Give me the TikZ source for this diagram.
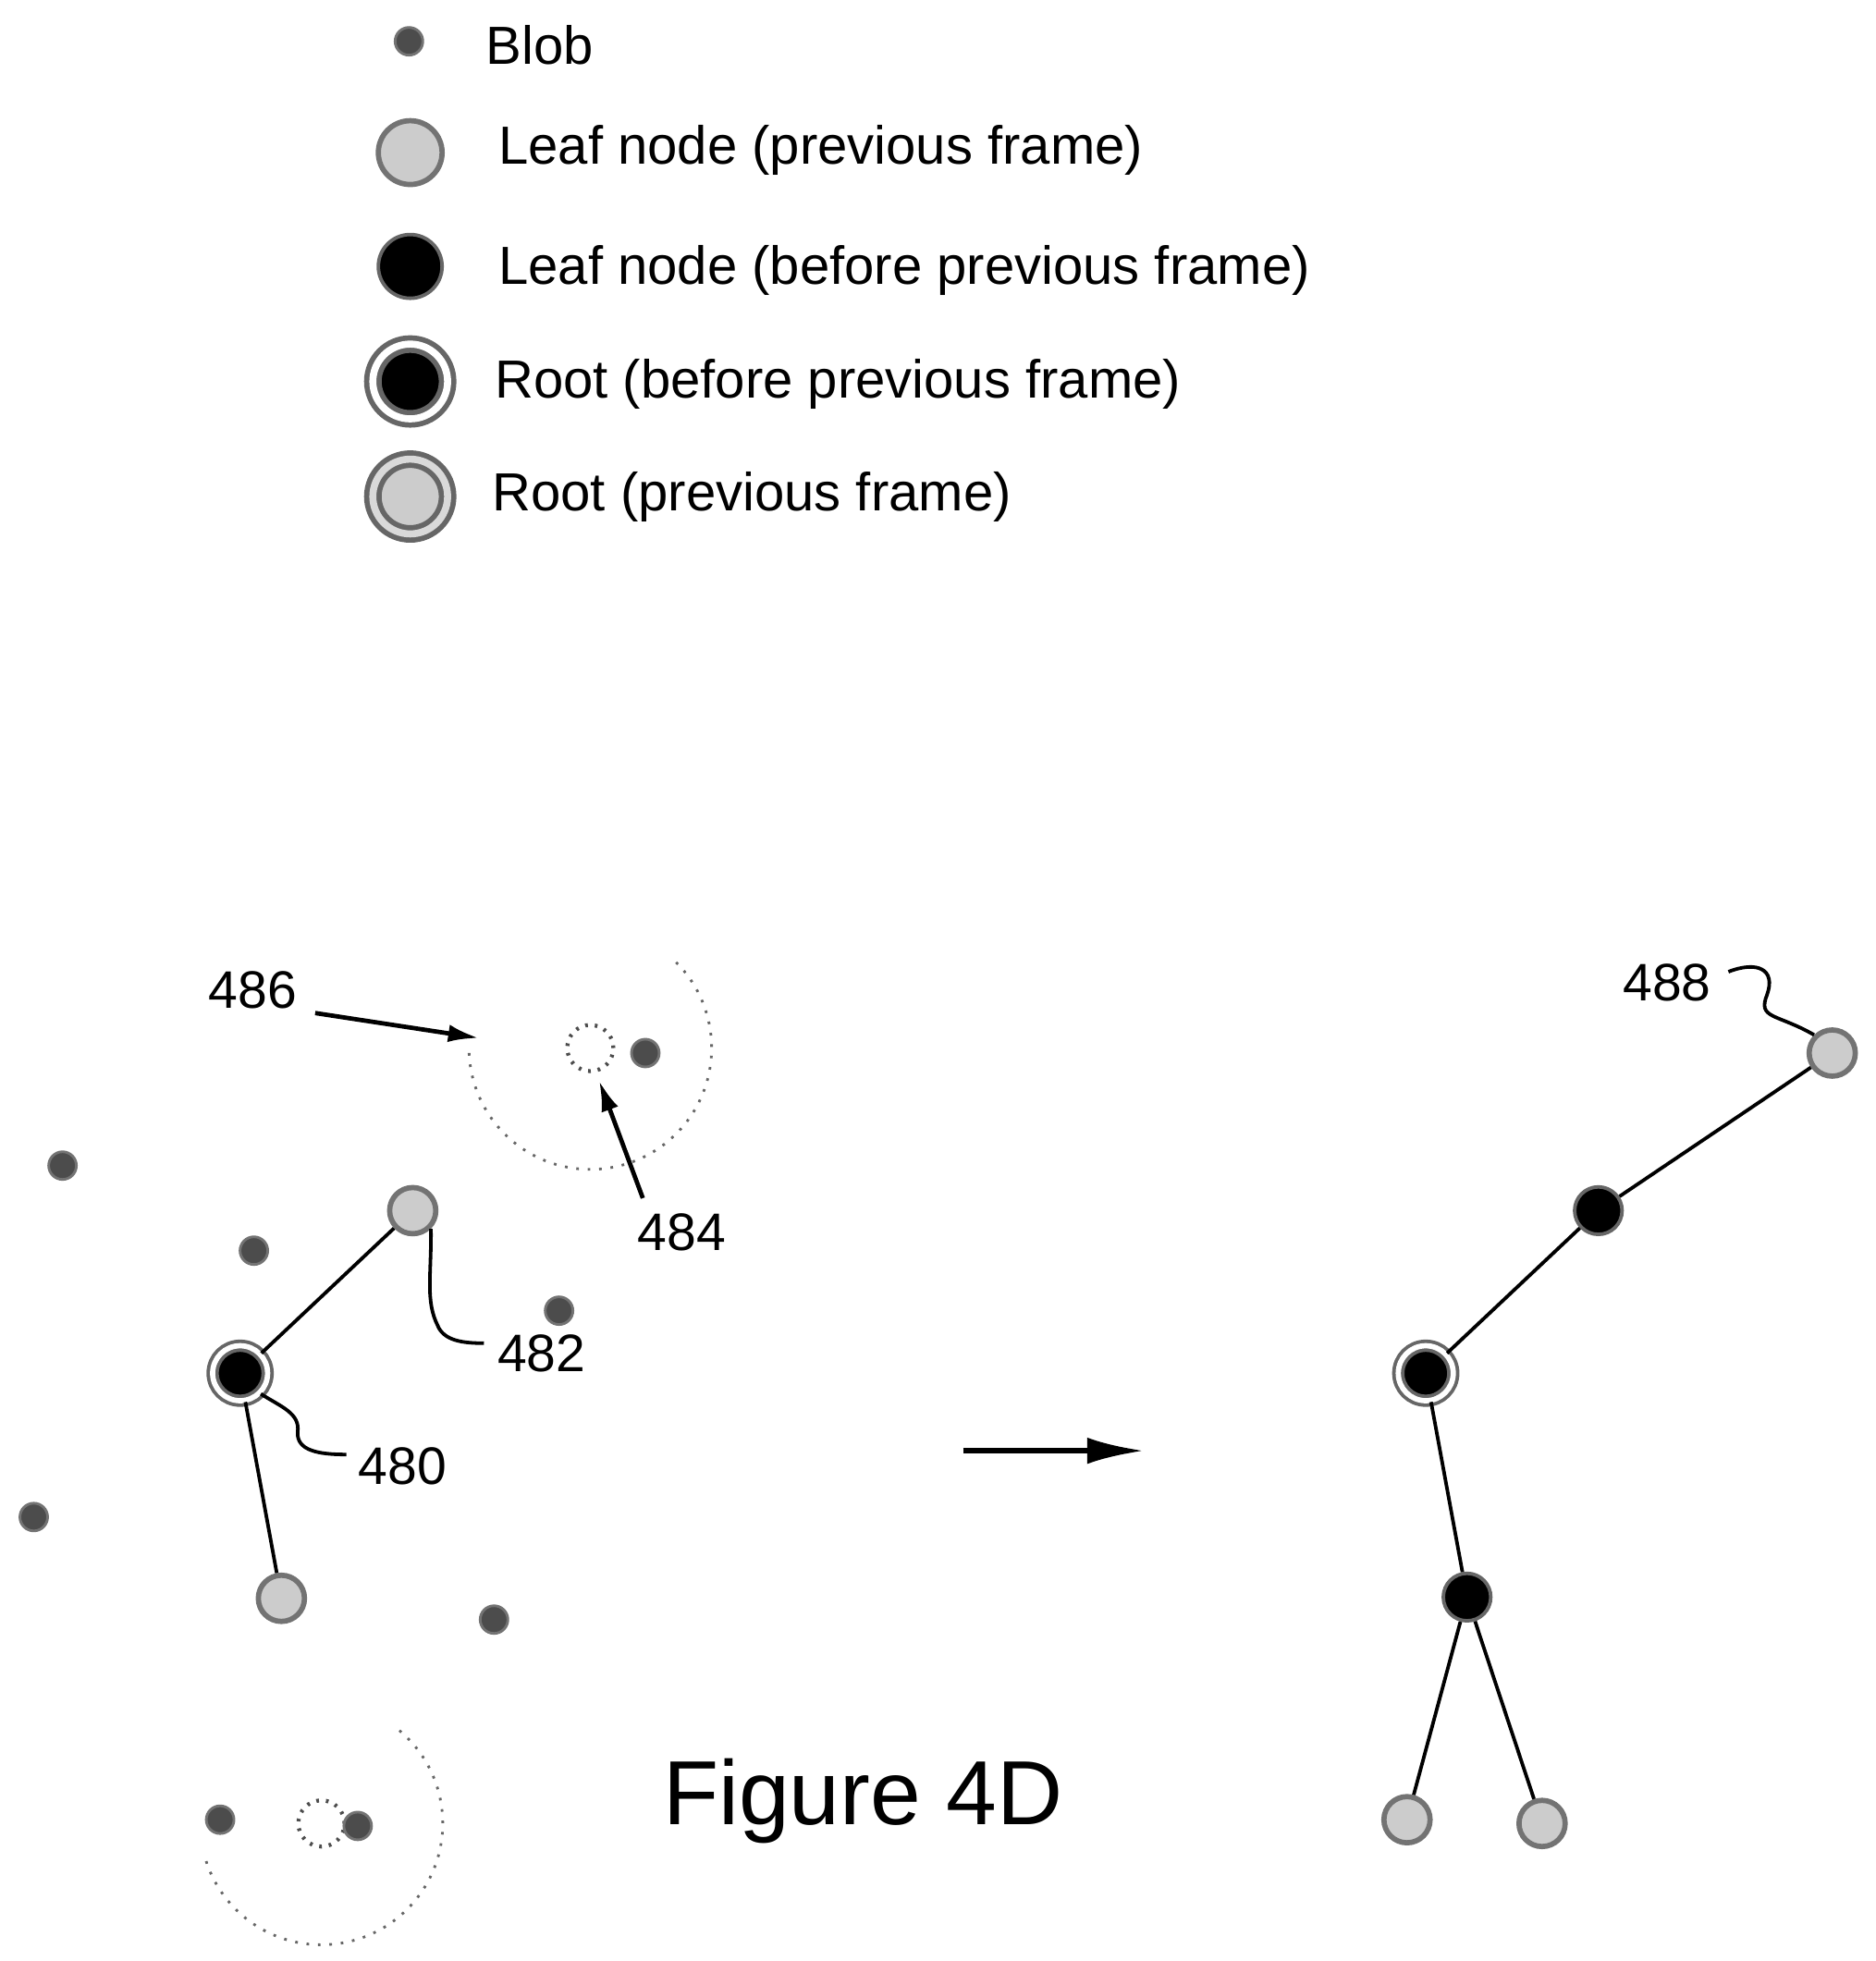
\documentclass[tikz,border=0pt]{standalone}
\usepackage{fontspec}
\setmainfont{Liberation Sans}
\usetikzlibrary{arrows.meta}
\begin{document}
\begin{tikzpicture}[x=0.01cm,y=-0.01cm,
  blob/.style={circle,fill=black!70,draw=black!55,line width=0.6pt,minimum size=6.3pt,inner sep=0},
  leafp/.style={circle,fill=black!20,draw=black!55,line width=1.2pt,minimum size=10.5pt,inner sep=0},
  leafb/.style={circle,fill=black,draw=black!60,line width=0.8pt,minimum size=10.8pt,inner sep=0},
  rootb/.style={circle,fill=black,draw=black!60,line width=0.8pt,minimum size=12.5pt,inner sep=0,
     double=white,double distance=1.2pt},
  rootp/.style={circle,fill=black!20,draw=black!60,line width=1.2pt,minimum size=17pt,inner sep=0,
     double=black!15,double distance=1.6pt},
  big/.style={minimum size=14.5pt},
  ghost/.style={circle,draw=black!70,dash pattern=on 0.6pt off 1.6pt,line width=0.9pt,minimum size=10.5pt,inner sep=0},
  lbl/.style={font=\fontsize{12.2pt}{14pt}\selectfont,anchor=west,inner sep=0},
  num/.style={font=\fontsize{12pt}{14pt}\selectfont,inner sep=0},
  edge/.style={line width=0.8pt},
  lead/.style={line width=0.8pt},
  arr/.style={line width=1pt,-{Latex[length=7pt,width=4pt]}},
  bigarr/.style={line width=1.3pt,-{Latex[length=13pt,width=6pt]}}]
\useasboundingbox (0,0) rectangle (1500,1568);
% legend
\node[blob] (lg1) at (327,33) {};
\node[lbl] (lt1) at (388,36) {Blob};
\node[leafp,big] (lg2) at (328,122) {};
\node[lbl] (lt2) at (398,120) {Leaf node (previous frame)};
\node[leafb,big] (lg3) at (328,213) {};
\node[lbl] (lt3) at (398,216) {Leaf node (before previous frame)};
\node[rootb,line width=1.2pt,double distance=1.6pt,minimum size=17pt] (lg4) at (328,305) {};
\node[lbl] (lt4) at (395,307) {Root (before previous frame)};
\node[rootp] (lg5) at (328,397) {};
\node[lbl] (lt5) at (393,397) {Root (previous frame)};
% search circles
\draw[black!60,dotted,line width=0.6pt] (472,838) ++(-45:97) arc[start angle=-45,end angle=180,radius=97];
\draw[black!60,dotted,line width=0.6pt] (257,1458) ++(-50:97) arc[start angle=-50,end angle=165,radius=97];
\node[ghost] (g1) at (472,838) {};
\node[ghost] (g2) at (257,1458) {};
% blobs
\foreach \i/\p in {1/{50,932},2/{203,1000},3/{447,1048},4/{27,1213},5/{395,1295},6/{516,842},7/{176,1455},8/{286,1460}}
  \node[blob] (b\i) at (\p) {};
% left tree
\node[rootb] (r1) at (192,1098) {};
\node[leafp] (l1) at (330,968) {};
\node[leafp] (l2) at (225,1278) {};
\draw[edge] (r1) -- (l1);
\draw[edge] (r1) -- (l2);
% right tree
\node[rootb] (r2) at (1140,1098) {};
\node[leafb] (k1) at (1278,968) {};
\node[leafp] (k2) at (1465,842) {};
\node[leafb] (k3) at (1173,1277) {};
\node[leafp] (k4) at (1125,1455) {};
\node[leafp] (k5) at (1233,1458) {};
\draw[edge] (r2) -- (k1) -- (k2);
\draw[edge] (r2) -- (k3) -- (k4);
\draw[edge] (k3) -- (k5);
% transition arrow
\coordinate (a1) at (770,1160);
\coordinate (a2) at (915,1160);
\draw[bigarr] (a1) -- (a2);
% labels
\node[num] (n486) at (202,792) {486};
\coordinate (c486) at (383,830);
\coordinate (s486) at (252,810);
\draw[arr] (s486) -- (c486);
\node[num] (n484) at (545,985) {484};
\coordinate (c484) at (479,864);
\coordinate (s484) at (514,958);
\draw[arr] (s484) -- (c484);
\node[num] (n482) at (433,1082) {482};
\draw[lead] (l1.south east) .. controls (345,1020) and (340,1040) .. (350,1060) .. controls (355,1072) and (370,1074) .. (387,1074);
\node[num] (n480) at (322,1172) {480};
\draw[lead] (r1.south east) .. controls (225,1125) and (240,1130) .. (238,1145) .. controls (237,1160) and (255,1163) .. (277,1163);
\node[num] (n488) at (1333,786) {488};
\draw[lead] (1382,777) .. controls (1405,768) and (1420,775) .. (1413,795) .. controls (1405,815) and (1420,810) .. (k2.north west);
\node[font=\fontsize{20.7pt}{24pt}\selectfont,inner sep=0] (fig) at (690,1440) {Figure 4D};
\end{tikzpicture}
\end{document}
